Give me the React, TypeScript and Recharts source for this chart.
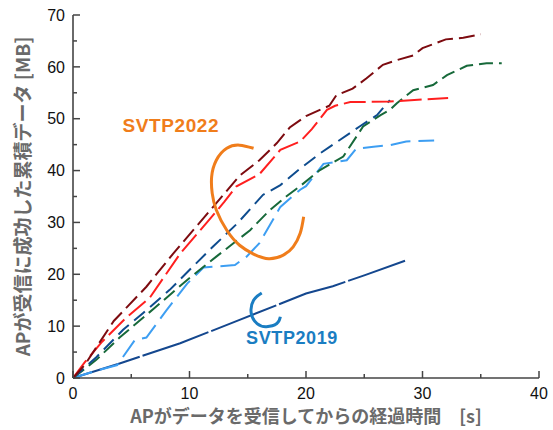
import { LineChart, Line, XAxis, YAxis, ReferenceDot } from "recharts";

// 2022 runs (seconds, cumulative MB)
const maroonRun = [
  [0, 0], [1, 2.5], [3.5, 11], [6.3, 17.6], [8.6, 24], [11.8, 32.4], [14.3, 39], [16, 42],
  [17.5, 45.3], [18.6, 48.3], [20, 50.5], [22, 52.5], [22.6, 54.5], [24, 55.8], [25.2, 57.8],
  [26.6, 60.4], [27.8, 61.3], [29.2, 62.2], [30, 63.6], [32, 65.3], [33.5, 65.6], [35, 66.3],
];
const redRun = [
  [0, 0], [1, 3], [2.5, 7], [4.5, 11.5], [6.6, 15.5], [9.2, 24], [11.5, 30], [13, 34],
  [14, 36.9], [16, 39.3], [17.8, 44], [19.5, 45.6], [20.5, 48], [21.8, 51.7], [22.5, 52.5],
  [23.8, 53.2], [27.2, 53.3], [30, 53.7], [32.2, 54],
];
const blueRun = [
  [0, 0], [2, 4], [4.3, 9.3], [6, 12.5], [8.3, 17], [10.3, 21.5], [12, 25.3], [14.1, 29.8],
  [16.3, 35.3], [17.8, 37.2], [19.5, 40.4], [21.2, 43.3], [22.9, 45.9], [24.6, 48.5],
  [26.1, 50.7], [27.2, 53.6],
];
const greenRun = [
  [0, 0], [2, 3.5], [4, 7.8], [7, 13.5], [9.8, 18.9], [12.3, 23.4], [15.2, 28.5], [16.9, 32.4],
  [18.3, 35], [19.5, 37], [21.2, 40.1], [23.2, 42.7], [24.9, 48.5], [26.4, 50.7], [27.2, 51.7],
  [27.8, 53], [29.2, 55.5], [30.9, 56.5], [32.1, 58.4], [33.8, 60.2], [35.5, 60.7], [36.8, 60.7],
];
const skyRun = [
  [0, 0], [2, 1.4], [3.8, 2.5], [5.3, 7.3], [6.3, 7.8], [8, 13], [9.8, 18.2], [11.2, 21.3],
  [13.9, 21.8], [14.9, 23.4], [16, 26], [17.8, 33], [19.5, 36.3], [20, 37], [21.5, 41.3],
  [23.5, 42], [24.3, 44.2], [25.8, 44.6], [27.2, 44.9], [28.6, 45.6], [31, 45.8],
];
// 2019 run
const run2019 = [
  [0, 0], [4, 2.8], [9.2, 6.7], [14.3, 11.2], [20, 16.3], [22.3, 17.7], [25, 19.8], [28.5, 22.6],
];

// hand drawn marks
const arc2022 = [
  [15.5, 44.3], [14.3, 44.9], [13.2, 44.3], [12.3, 42], [11.9, 38.8], [11.95, 35.6], [12.3, 32.4],
  [13.2, 28.5], [14.3, 25.6], [15.5, 23.9], [16.8, 23], [18.05, 23.7], [18.9, 25.3], [19.5, 27.9],
  [19.8, 31.1],
];
const curl2019 = [
  [16.2, 16.4], [15.5, 15], [15.3, 12.5], [15.8, 10.5], [16.6, 9.9], [17.5, 10.5], [17.8, 11.8],
];

const xTicks = [0, 5, 10, 15, 20, 25, 30, 35, 40];
const yTicks = [0, 5, 10, 15, 20, 25, 30, 35, 40, 45, 50, 55, 60, 65, 70];

const toRows = (pts: number[][]) => pts.map(([t, mb]) => ({ t, mb }));

const FRAME = "#454545";
const tickFont = "'Liberation Sans', Arial, sans-serif";
const jpFont = "'Noto Sans CJK JP', sans-serif";

const LeftTick = ({ x, y, payload }: any) => {
  const v = payload.value;
  const major = v % 10 === 0;
  const ax = x + 8;
  return (
    <g>
      <line x1={ax} x2={ax + (major ? 7 : 4)} y1={y} y2={y} stroke={FRAME} strokeWidth={1.5} />
      {major && (
        <text x={x} y={y} dy="0.36em" textAnchor="end" fontSize={16} fontFamily={tickFont} fill="#111">
          {v}
        </text>
      )}
    </g>
  );
};

const BottomTick = ({ x, y, payload }: any) => {
  const v = payload.value;
  const major = v % 10 === 0;
  const ay = y - 9;
  return (
    <g>
      <line x1={x} x2={x} y1={ay} y2={ay - (major ? 7 : 4)} stroke={FRAME} strokeWidth={1.5} />
      {major && (
        <text x={x} y={y} dy="0.72em" textAnchor="middle" fontSize={16} fontFamily={tickFont} fill="#111">
          {v}
        </text>
      )}
    </g>
  );
};

const TopTick = ({ x, y, payload }: any) => {
  const major = payload.value % 10 === 0;
  return <line x1={x} x2={x} y1={y} y2={y + (major ? 7 : 4)} stroke={FRAME} strokeWidth={1.5} />;
};

const RightTick = ({ x, y, payload }: any) => {
  const major = payload.value % 10 === 0;
  return <line x1={x} x2={x - (major ? 7 : 4)} y1={y} y2={y} stroke={FRAME} strokeWidth={1.5} />;
};

export default function App() {
  const axisLine = { stroke: FRAME, strokeWidth: 1.6 };
  return (
    <div style={{ position: "absolute", left: 0, top: 0, background: "#fff" }}>
      <LineChart width={553} height={430} margin={{ top: 15, right: 14, left: 0, bottom: 0 }}>
        <XAxis
          dataKey="t"
          type="number"
          domain={[0, 40]}
          ticks={xTicks}
          interval={0}
          height={52}
          tickSize={0}
          tickMargin={9}
          tickLine={false}
          axisLine={axisLine}
          tick={<BottomTick />}
          label={{
            content: ({ viewBox }: any) => (
              <text
                x={viewBox.x + viewBox.width / 2}
                y={423}
                textAnchor="middle"
                fontSize={18}
                fontWeight="bold"
                fontFamily={jpFont}
                fill="#6a6a6a"
              >
                APがデータを受信してからの経過時間　[s]
              </text>
            ),
          }}
        />
        <XAxis
          xAxisId="top"
          orientation="top"
          type="number"
          domain={[0, 40]}
          allowDataOverflow
          ticks={xTicks}
          interval={0}
          height={0}
          tickSize={0}
          tickMargin={0}
          tickLine={false}
          axisLine={axisLine}
          tick={<TopTick />}
        />
        <YAxis
          type="number"
          domain={[0, 70]}
          ticks={yTicks}
          interval={0}
          width={73}
          tickSize={0}
          tickMargin={8}
          tickLine={false}
          axisLine={axisLine}
          tick={<LeftTick />}
          label={{
            content: ({ viewBox }: any) => {
              const cy = viewBox.y + viewBox.height / 2;
              return (
                <text
                  x={21}
                  y={cy}
                  transform={`rotate(-90, 21, ${cy})`}
                  textAnchor="middle"
                  dominantBaseline="central"
                  fontSize={19}
                  fontWeight="bold"
                  fontFamily={jpFont}
                  fill="#6a6a6a"
                >
                  APが受信に成功した累積データ [MB]
                </text>
              );
            },
          }}
        />
        <YAxis
          yAxisId="right"
          orientation="right"
          type="number"
          domain={[0, 70]}
          allowDataOverflow
          ticks={yTicks}
          interval={0}
          width={0}
          tickSize={0}
          tickMargin={0}
          tickLine={false}
          axisLine={axisLine}
          tick={<RightTick />}
        />

        <Line data={toRows(run2019)} dataKey="mb" stroke="#14478E" strokeWidth={2} strokeDasharray="70 3" dot={false} type="linear" isAnimationActive={false} />
        <Line data={toRows(skyRun)} dataKey="mb" stroke="#3D9EF2" strokeWidth={2} strokeDasharray="20 8" dot={false} type="linear" isAnimationActive={false} />
        <Line data={toRows(greenRun)} dataKey="mb" stroke="#17693A" strokeWidth={2} strokeDasharray="14 6" dot={false} type="linear" isAnimationActive={false} />
        <Line data={toRows(blueRun)} dataKey="mb" stroke="#0E4C8E" strokeWidth={2} strokeDasharray="14 7" dot={false} type="linear" isAnimationActive={false} />
        <Line data={toRows(redRun)} dataKey="mb" stroke="#FF1F1F" strokeWidth={2} strokeDasharray="22 6" dot={false} type="linear" isAnimationActive={false} />
        <Line data={toRows(maroonRun)} dataKey="mb" stroke="#7D0B10" strokeWidth={2} strokeDasharray="16 6" dot={false} type="linear" isAnimationActive={false} />

        <Line data={toRows(arc2022)} dataKey="mb" stroke="#F07D1B" strokeWidth={3} dot={false} type="natural" isAnimationActive={false} />
        <Line data={toRows(curl2019)} dataKey="mb" stroke="#1A7DC2" strokeWidth={3} dot={false} type="natural" isAnimationActive={false} />

        <ReferenceDot
          x={8.4}
          y={48.8}
          r={0}
          fill="none"
          stroke="none"
          label={{ value: "SVTP2022", position: "center", fill: "#F07D1B", fontSize: 19, fontWeight: "bold", fontFamily: tickFont, letterSpacing: 0.6 }}
        />
        <ReferenceDot
          x={18.8}
          y={7.7}
          r={0}
          fill="none"
          stroke="none"
          label={{ value: "SVTP2019", position: "center", fill: "#1A7DC2", fontSize: 18, fontWeight: "bold", fontFamily: tickFont, letterSpacing: 0.6 }}
        />
      </LineChart>
    </div>
  );
}
